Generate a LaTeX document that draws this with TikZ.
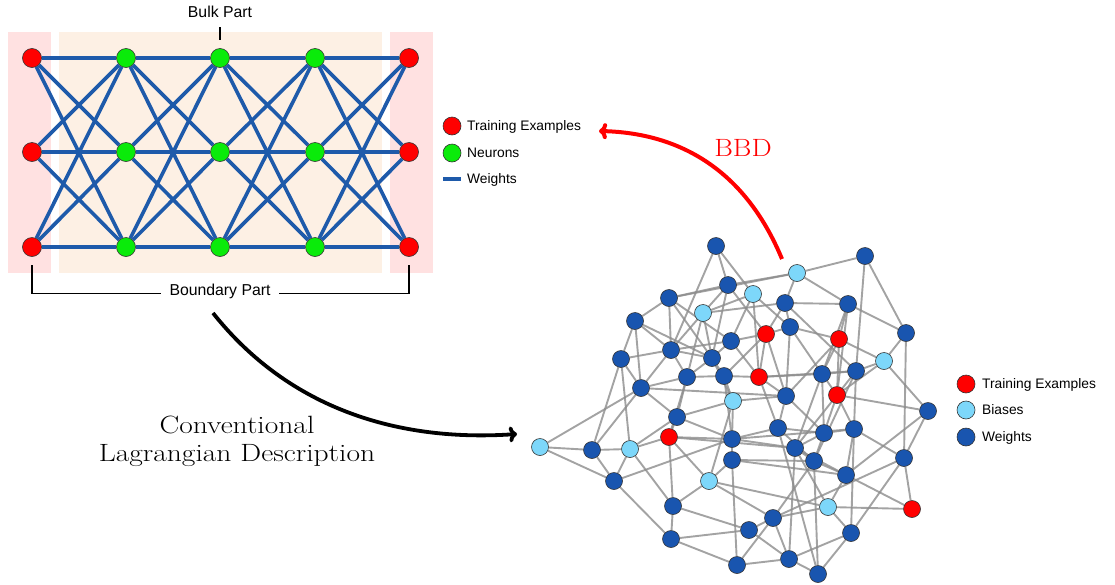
\documentclass[tikz,border=0pt]{standalone}
\usepackage{fontspec}
\newfontfamily\sansf{Liberation Sans}
\usetikzlibrary{arrows.meta}
\pgfdeclarelayer{back}
\pgfdeclarelayer{mid}
\pgfsetlayers{back,mid,main}
\definecolor{rd}{RGB}{255,0,0}
\definecolor{gn}{RGB}{10,235,10}
\definecolor{lt}{RGB}{125,215,250}
\definecolor{dk}{RGB}{25,85,175}
\definecolor{wblue}{RGB}{30,90,170}
\definecolor{pinkbg}{RGB}{255,225,225}
\definecolor{beige}{RGB}{253,240,228}
\definecolor{edgegray}{RGB}{140,140,140}
\tikzset{
  lnode/.style={circle, draw=black!80, line width=0.6pt, minimum size=19pt, inner sep=0pt},
  gnode/.style={circle, draw=black!80, line width=0.6pt, minimum size=17pt, inner sep=0pt},
  wedge/.style={draw=wblue, line width=3.6pt},
  gedge/.style={draw=edgegray, line width=1.9pt, opacity=0.8},
  lab/.style={font=\sansf\fontsize{13.8}{16}\selectfont, inner sep=0pt},
  biglab/.style={font=\sansf\fontsize{15.8}{18}\selectfont, inner sep=0pt},
  bracket/.style={draw=black, line width=1.6pt},
  bigserif/.style={font=\fontsize{25}{28}\selectfont, inner sep=0pt},
}
\begin{document}
\begin{tikzpicture}[x=1pt,y=-1pt]
\useasboundingbox (0,0) rectangle (1115,584);
\begin{pgfonlayer}{back}
  \fill[pinkbg] (8,32) rectangle (51,273);
  \fill[pinkbg] (390,32) rectangle (433,273);
  \fill[beige] (59,32) rectangle (382,273);
\end{pgfonlayer}

% ---------- left network ----------
\foreach \c/\x in {1/32,5/409}
  \foreach \r/\y in {1/58,2/152,3/247}
    \node[lnode, fill=rd] (L\c\r) at (\x,\y) {};
\foreach \c/\x in {2/126,3/220,4/315}
  \foreach \r/\y in {1/58,2/152,3/247}
    \node[lnode, fill=gn] (L\c\r) at (\x,\y) {};
\begin{pgfonlayer}{mid}
\foreach \c/\d in {1/2,2/3,3/4,4/5}
  \foreach \r in {1,2,3}
    \foreach \s in {1,2,3}
      \draw[wedge] (L\c\r) -- (L\d\s);
\end{pgfonlayer}

\node[biglab, anchor=base] (bulk) at (220,17) {Bulk Part};
\coordinate (bt) at (220,27);
\draw[bracket] (bt) -- ([yshift=8.5pt]L31.north);
\node[biglab, anchor=mid, inner xsep=8pt] (bnd) at (220,293.5) {Boundary Part};
\draw[bracket] ([yshift=-8.5pt]L13.south) |- (bnd.mid west);
\draw[bracket] ([yshift=-8.5pt]L53.south) |- (bnd.mid east);

% legend 1
\node[lnode, minimum size=18pt, fill=rd] (k1) at (452,126) {};
\node[lnode, minimum size=18pt, fill=gn] (k2) at (452,153) {};
\coordinate (k3a) at (443,179);
\coordinate (k3b) at (461,179);
\draw[wedge] (k3a) -- (k3b);
\node[lab, anchor=base west] (t1) at (467,130.7) {Training Examples};
\node[lab, anchor=base west] (t2) at (467,157.7) {Neurons};
\node[lab, anchor=base west] (t3) at (467,183.7) {Weights};

% ---------- right graph ----------
\foreach \n/\x/\y/\c in {
 1/716/246/dk, 2/865/256/dk, 3/797/273/lt, 4/728/285/dk, 5/753/294/lt,
 6/669/298/dk, 7/703/313/lt, 8/785/303/dk, 9/848/304/dk, 10/635/321/dk,
 11/766/334/rd, 12/790/327/dk, 13/839/339/rd, 14/906/333/dk, 15/731/341/dk,
 16/671/350/dk, 17/621/359/dk, 18/712/358/dk, 19/884/361/lt, 20/687/377/dk,
 21/724/376/dk, 22/759/377/rd, 23/822/374/dk, 24/856/371/dk, 25/641/388/dk,
 26/786/396/dk, 27/837/395/rd, 28/733/401/lt, 29/928/411/dk, 30/677/417/dk,
 31/778/428/dk, 32/824/433/dk, 33/854/429/dk, 34/669/437/rd, 35/540/447/lt,
 36/592/450/dk, 37/630/449/lt, 38/732/439/dk, 39/795/448/dk, 40/732/460/dk,
 41/814/461/dk, 42/846/475/dk, 43/904/458/dk, 44/614/481/dk, 45/709/481/lt,
 46/828/507/lt, 47/912/509/rd, 48/673/506/dk, 49/773/518/dk, 50/749/530/dk,
 51/851/533/dk, 52/671/539/dk, 53/737/565/dk, 54/789/559/dk, 55/818/574/dk}
  \node[gnode, fill=\c] (g\n) at (\x,\y) {};

\begin{pgfonlayer}{mid}
\foreach \a/\b in {
 1/4,1/5,1/16, 2/3,2/14,2/24, 3/4,3/6,3/8,3/9, 4/7,4/11,4/18,4/6,
 5/7,5/12,5/15,5/22, 6/10,6/16,6/15,6/18, 7/16,7/18,7/8,7/20,
 8/12,8/11,8/24,8/9, 9/13,9/14,9/23,9/27, 10/16,10/25,10/17,10/18,
 11/15,11/12,11/22,11/21,11/26, 12/23,12/26,12/13, 13/23,13/27,13/19,13/26,
 14/19,14/43, 15/18,15/22,15/16, 16/17,16/18,16/20,16/25, 17/25,17/37,17/36,
 18/20,18/21,18/28, 19/24,19/27,19/29, 20/25,20/21,20/30,20/34,
 21/22,21/28,21/38, 22/23,22/24,22/31,22/26, 23/24,23/27,23/32,23/39,
 24/27,24/33,24/41, 25/35,25/36,25/30,25/26, 26/28,26/31,26/32,
 27/29,27/32,27/33,27/39, 28/30,28/38,28/45, 30/34,30/37,30/38,
 31/32,31/38,31/55,31/41, 32/33,32/39,32/41, 33/51,33/42,33/43,
 34/37,34/48,34/45,34/38,34/39, 35/36,35/44, 36/37,36/44, 37/44,37/48,
 38/40,38/33,38/39, 39/41,39/42,39/46,39/54, 40/41,40/42,40/53,40/45,
 41/42,41/49,41/55, 42/46,42/47,42/29, 43/47,43/51,43/29,43/49,
 44/52,44/38, 45/48,45/49,45/46, 46/47,46/49,46/51, 48/52,48/50,
 49/50,49/53,49/54, 50/52,50/54, 51/54,51/55, 52/53, 53/54, 54/55}
  \draw[gedge] (g\a) -- (g\b);
\end{pgfonlayer}

% legend 2
\node[gnode, minimum size=18pt, fill=rd] (m1) at (966,384) {};
\node[gnode, minimum size=18pt, fill=lt] (m2) at (966,410) {};
\node[gnode, minimum size=18pt, fill=dk] (m3) at (966,437) {};
\node[lab, anchor=base west] (u1) at (982,388.7) {Training Examples};
\node[lab, anchor=base west] (u2) at (982,414.7) {Biases};
\node[lab, anchor=base west] (u3) at (982,441.7) {Weights};

% ---------- arrows and labels ----------
\coordinate (cs) at (213,313);
\coordinate (ce) at (517,434);
\draw[line width=3.8pt, -{To[length=8pt,width=16pt]}] (cs) .. controls (290,410) and (400,442) .. (ce);
\node[bigserif] (conv) at (237,442) {\scalebox{1.18}[1]{\begin{tabular}{@{}c@{}}Conventional\\[-0.5pt]Lagrangian Description\end{tabular}}};

\coordinate (rs) at (782,259);
\coordinate (re) at (599,131);
\draw[rd, line width=4pt, -{To[length=8pt,width=16pt]}] (rs) .. controls (745,170) and (680,133) .. (re);
\node[bigserif, text=rd] (bbd) at (743,148) {\scalebox{1.14}[1]{BBD}};
\end{tikzpicture}
\end{document}
